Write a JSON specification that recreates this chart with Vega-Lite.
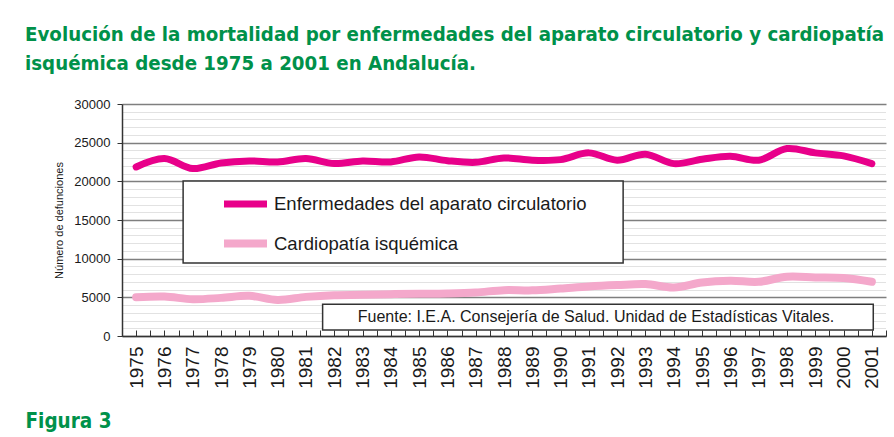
{
  "$schema": "https://vega.github.io/schema/vega-lite/v6.json",
  "width": 764,
  "height": 232,
  "autosize": "none",
  "padding": {"left": 122, "top": 104, "right": 8, "bottom": 101},
  "background": "white",
  "title": {
    "text": ["Evolución de la mortalidad por enfermedades del aparato circulatorio y cardiopatía", "isquémica desde 1975 a 2001 en Andalucía."],
    "anchor": "start",
    "frame": "group",
    "dx": -97,
    "offset": 24,
    "font": "DejaVu Sans Condensed",
    "fontWeight": "bold",
    "fontSize": 20.3,
    "lineHeight": 29,
    "color": "#00914A"
  },
  "config": {
    "view": {"stroke": null},
    "font": "Liberation Sans"
  },
  "resolve": {"axis": {"x": "independent", "y": "independent"}},
  "layer": [
    {
      "data": {
        "values": [
          {"year": 1975, "serie": "Enfermedades del aparato circulatorio", "value": 21860},
          {"year": 1976, "serie": "Enfermedades del aparato circulatorio", "value": 22950},
          {"year": 1977, "serie": "Enfermedades del aparato circulatorio", "value": 21650},
          {"year": 1978, "serie": "Enfermedades del aparato circulatorio", "value": 22380},
          {"year": 1979, "serie": "Enfermedades del aparato circulatorio", "value": 22640},
          {"year": 1980, "serie": "Enfermedades del aparato circulatorio", "value": 22510},
          {"year": 1981, "serie": "Enfermedades del aparato circulatorio", "value": 22950},
          {"year": 1982, "serie": "Enfermedades del aparato circulatorio", "value": 22300},
          {"year": 1983, "serie": "Enfermedades del aparato circulatorio", "value": 22640},
          {"year": 1984, "serie": "Enfermedades del aparato circulatorio", "value": 22510},
          {"year": 1985, "serie": "Enfermedades del aparato circulatorio", "value": 23160},
          {"year": 1986, "serie": "Enfermedades del aparato circulatorio", "value": 22670},
          {"year": 1987, "serie": "Enfermedades del aparato circulatorio", "value": 22460},
          {"year": 1988, "serie": "Enfermedades del aparato circulatorio", "value": 23030},
          {"year": 1989, "serie": "Enfermedades del aparato circulatorio", "value": 22730},
          {"year": 1990, "serie": "Enfermedades del aparato circulatorio", "value": 22810},
          {"year": 1991, "serie": "Enfermedades del aparato circulatorio", "value": 23680},
          {"year": 1992, "serie": "Enfermedades del aparato circulatorio", "value": 22730},
          {"year": 1993, "serie": "Enfermedades del aparato circulatorio", "value": 23510},
          {"year": 1994, "serie": "Enfermedades del aparato circulatorio", "value": 22290},
          {"year": 1995, "serie": "Enfermedades del aparato circulatorio", "value": 22860},
          {"year": 1996, "serie": "Enfermedades del aparato circulatorio", "value": 23250},
          {"year": 1997, "serie": "Enfermedades del aparato circulatorio", "value": 22730},
          {"year": 1998, "serie": "Enfermedades del aparato circulatorio", "value": 24240},
          {"year": 1999, "serie": "Enfermedades del aparato circulatorio", "value": 23680},
          {"year": 2000, "serie": "Enfermedades del aparato circulatorio", "value": 23290},
          {"year": 2001, "serie": "Enfermedades del aparato circulatorio", "value": 22290},
          {"year": 1975, "serie": "Cardiopatía isquémica", "value": 5000},
          {"year": 1976, "serie": "Cardiopatía isquémica", "value": 5100},
          {"year": 1977, "serie": "Cardiopatía isquémica", "value": 4760},
          {"year": 1978, "serie": "Cardiopatía isquémica", "value": 4930},
          {"year": 1979, "serie": "Cardiopatía isquémica", "value": 5190},
          {"year": 1980, "serie": "Cardiopatía isquémica", "value": 4670},
          {"year": 1981, "serie": "Cardiopatía isquémica", "value": 5060},
          {"year": 1982, "serie": "Cardiopatía isquémica", "value": 5280},
          {"year": 1983, "serie": "Cardiopatía isquémica", "value": 5320},
          {"year": 1984, "serie": "Cardiopatía isquémica", "value": 5410},
          {"year": 1985, "serie": "Cardiopatía isquémica", "value": 5450},
          {"year": 1986, "serie": "Cardiopatía isquémica", "value": 5500},
          {"year": 1987, "serie": "Cardiopatía isquémica", "value": 5630},
          {"year": 1988, "serie": "Cardiopatía isquémica", "value": 5930},
          {"year": 1989, "serie": "Cardiopatía isquémica", "value": 5900},
          {"year": 1990, "serie": "Cardiopatía isquémica", "value": 6140},
          {"year": 1991, "serie": "Cardiopatía isquémica", "value": 6400},
          {"year": 1992, "serie": "Cardiopatía isquémica", "value": 6580},
          {"year": 1993, "serie": "Cardiopatía isquémica", "value": 6710},
          {"year": 1994, "serie": "Cardiopatía isquémica", "value": 6270},
          {"year": 1995, "serie": "Cardiopatía isquémica", "value": 6920},
          {"year": 1996, "serie": "Cardiopatía isquémica", "value": 7140},
          {"year": 1997, "serie": "Cardiopatía isquémica", "value": 7010},
          {"year": 1998, "serie": "Cardiopatía isquémica", "value": 7660},
          {"year": 1999, "serie": "Cardiopatía isquémica", "value": 7570},
          {"year": 2000, "serie": "Cardiopatía isquémica", "value": 7490},
          {"year": 2001, "serie": "Cardiopatía isquémica", "value": 7010}
        ]
      },
      "mark": {"type": "line", "interpolate": "catmull-rom", "strokeCap": "round", "strokeJoin": "round"},
      "encoding": {
        "x": {
          "field": "year",
          "type": "quantitative",
          "scale": {"domain": [1974.5, 2001.5], "nice": false, "zero": false},
          "axis": {
            "title": "Figura 3",
            "titleFont": "DejaVu Sans Condensed",
            "titleFontWeight": "bold",
            "titleFontSize": 20.5,
            "titleColor": "#00914A",
            "titleAlign": "left",
            "titleBaseline": "alphabetic",
            "titleX": -97,
            "titleY": 91,
            "values": [1974.5, 1975, 1975.5, 1976, 1976.5, 1977, 1977.5, 1978, 1978.5, 1979, 1979.5, 1980, 1980.5, 1981, 1981.5, 1982, 1982.5, 1983, 1983.5, 1984, 1984.5, 1985, 1985.5, 1986, 1986.5, 1987, 1987.5, 1988, 1988.5, 1989, 1989.5, 1990, 1990.5, 1991, 1991.5, 1992, 1992.5, 1993, 1993.5, 1994, 1994.5, 1995, 1995.5, 1996, 1996.5, 1997, 1997.5, 1998, 1998.5, 1999, 1999.5, 2000, 2000.5, 2001, 2001.5],
            "labelExpr": "datum.value % 1 === 0 ? format(datum.value, 'd') : ''",
            "labelAngle": 270,
            "labelAlign": "right",
            "labelBaseline": "middle",
            "labelFontSize": 19,
            "labelColor": "#1a1a1a",
            "labelPadding": 16,
            "labelOverlap": false,
            "labelBound": false,
            "labelFlush": false,
            "tickSize": -6,
            "tickColor": "#333333",
            "tickWidth": 1,
            "domainColor": "#333333",
            "domainWidth": 1.5,
            "grid": false
          }
        },
        "y": {
          "field": "value",
          "type": "quantitative",
          "scale": {"domain": [0, 30000], "nice": false, "zero": true},
          "axis": {
            "title": "Número de defunciones",
            "titleFont": "Liberation Sans",
            "titleFontWeight": "normal",
            "titleFontSize": 11,
            "titleColor": "#1a1a1a",
            "titlePadding": 9,
            "values": [0, 1000, 2000, 3000, 4000, 5000, 6000, 7000, 8000, 9000, 10000, 11000, 12000, 13000, 14000, 15000, 16000, 17000, 18000, 19000, 20000, 21000, 22000, 23000, 24000, 25000, 26000, 27000, 28000, 29000, 30000],
            "labelExpr": "datum.value % 5000 === 0 ? format(datum.value, 'd') : ''",
            "labelFontSize": 13,
            "labelColor": "#1a1a1a",
            "labelPadding": 7,
            "tickSize": 5,
            "tickColor": "#333333",
            "tickOpacity": {"condition": {"test": "datum.value % 5000 === 0", "value": 1}, "value": 0},
            "domainColor": "#333333",
            "domainWidth": 1.5,
            "grid": true,
            "gridColor": {"condition": {"test": "datum.value % 5000 === 0", "value": "#7f7f7f"}, "value": "#c4c4c4"},
            "gridDash": {"condition": {"test": "datum.value % 5000 === 0", "value": []}, "value": [1, 1]},
            "gridWidth": {"condition": {"test": "datum.value % 5000 === 0", "value": 1.5}, "value": 1}
          }
        },
        "color": {
          "field": "serie",
          "type": "nominal",
          "sort": ["Enfermedades del aparato circulatorio", "Cardiopatía isquémica"],
          "scale": {"domain": ["Enfermedades del aparato circulatorio", "Cardiopatía isquémica"], "range": ["#E8008A", "#F4A8CB"]},
          "legend": {
            "title": null,
            "orient": "none",
            "legendX": 98,
            "legendY": 75,
            "padding": 0,
            "symbolType": "stroke",
            "symbolStrokeWidth": 7.5,
            "symbolSize": 1849,
            "rowPadding": -8,
            "labelFont": "Liberation Sans",
            "labelFontSize": 18.5,
            "labelColor": "#1a1a1a",
            "labelOffset": 3,
            "labelLimit": 400
          }
        },
        "strokeWidth": {
          "field": "serie",
          "type": "nominal",
          "scale": {"domain": ["Enfermedades del aparato circulatorio", "Cardiopatía isquémica"], "range": [7, 8]},
          "legend": null
        }
      }
    },
    {
      "data": {"values": [{"box": "leyenda"}]},
      "mark": {"type": "rect", "fill": "white", "stroke": "#333333", "strokeWidth": 1.5},
      "encoding": {
        "x": {"datum": 1976.66, "type": "quantitative", "scale": {"domain": [1974.5, 2001.5], "nice": false, "zero": false}, "axis": null},
        "x2": {"datum": 1992.21},
        "y": {"datum": 20044, "type": "quantitative", "scale": {"domain": [0, 30000], "nice": false, "zero": true}, "axis": null},
        "y2": {"datum": 9440}
      }
    },
    {
      "data": {"values": [{"box": "fuente"}]},
      "mark": {"type": "rect", "fill": "white", "stroke": "#333333", "strokeWidth": 1.5},
      "encoding": {
        "x": {"datum": 1981.59, "type": "quantitative", "scale": {"domain": [1974.5, 2001.5], "nice": false, "zero": false}, "axis": null},
        "x2": {"datum": 2001.05},
        "y": {"datum": 4100, "type": "quantitative", "scale": {"domain": [0, 30000], "nice": false, "zero": true}, "axis": null},
        "y2": {"datum": 776}
      }
    },
    {
      "data": {"values": [{"box": "fuente"}]},
      "mark": {"type": "text", "font": "Liberation Sans", "fontSize": 16, "color": "#1a1a1a", "align": "center", "baseline": "middle"},
      "encoding": {
        "x": {"datum": 1991.25, "type": "quantitative", "scale": {"domain": [1974.5, 2001.5], "nice": false, "zero": false}, "axis": null},
        "y": {"datum": 2457, "type": "quantitative", "scale": {"domain": [0, 30000], "nice": false, "zero": true}, "axis": null},
        "text": {"value": "Fuente: I.E.A. Consejería de Salud. Unidad de Estadísticas Vitales."}
      }
    }
  ]
}
